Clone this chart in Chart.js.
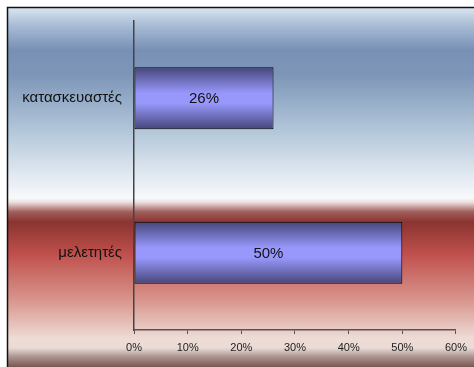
<!DOCTYPE html>
<html>
<head>
<meta charset="utf-8">
<script src="https://cdn.jsdelivr.net/npm/chart.js@4"></script>
<style>
  html, body { margin: 0; padding: 0; background: #fff; overflow: hidden; }
  #wrap { width: 474px; height: 367px; position: relative; }
</style>
</head>
<body>
<div id="wrap"><canvas id="chart" width="474" height="367"></canvas></div>
<script>
// data
const categories = ['κατασκευαστές', 'μελετητές'];
const shares = [26, 50];
const xTicks = [0, 10, 20, 30, 40, 50, 60];

// paints the banded background and the frame behind everything
const backdrop = {
  id: 'backdrop',
  beforeDraw(chart) {
    const c = chart.ctx;
    const h = chart.height;
    c.save();
    c.fillStyle = '#ffffff';
    c.fillRect(0, 0, chart.width, h);
    const g = c.createLinearGradient(0, 0, 0, h);
    const stops = [
      [7, '#dce6f1'], [25, '#a9bdd6'], [50, '#7890b5'], [75, '#7d96b8'],
      [130, '#b2c6d9'], [170, '#dce5ee'], [198, '#f8f9fb'], [202, '#eee2e2'],
      [212, '#a05e5b'], [222, '#8a3430'], [255, '#c0514d'], [300, '#d8958d'],
      [338, '#eedbd5'], [348, '#eadbd6'], [356, '#b09a96'], [367, '#7a5650']
    ];
    stops.forEach(([y, col]) => g.addColorStop(y / h, col));
    c.fillStyle = g;
    c.fillRect(7, 7, chart.width - 7, h - 7);
    c.strokeStyle = '#111';
    c.lineWidth = 1.5;
    c.beginPath();
    c.moveTo(7.5, h);
    c.lineTo(7.5, 7.5);
    c.lineTo(chart.width, 7.5);
    c.stroke();
    c.restore();
  }
};

// percentage written in the middle of each bar
const barLabels = {
  id: 'barLabels',
  afterDatasetsDraw(chart) {
    const c = chart.ctx;
    c.save();
    c.font = '15px "Liberation Sans", Arial, sans-serif';
    c.fillStyle = '#111';
    c.textAlign = 'center';
    c.textBaseline = 'middle';
    chart.getDatasetMeta(0).data.forEach((bar, i) => {
      const mid = (bar.x + bar.base) / 2;
      c.fillText(shares[i] + '%', mid, bar.y + 1);
    });
    c.restore();
  }
};

function barFill(ctx) {
  const chart = ctx.chart;
  const area = chart.chartArea;
  if (!area || !chart.scales.y) return '#9999ff';
  const yc = chart.scales.y.getPixelForValue(ctx.dataIndex);
  const half = (area.height / categories.length) * 0.4 / 2;
  const g = chart.ctx.createLinearGradient(0, yc - half, 0, yc + half);
  g.addColorStop(0, '#46467a');
  g.addColorStop(0.42, '#9898fc');
  g.addColorStop(0.58, '#9898fc');
  g.addColorStop(1, '#46467a');
  return g;
}

new Chart(document.getElementById('chart'), {
  type: 'bar',
  data: {
    labels: categories,
    datasets: [{
      data: shares,
      backgroundColor: barFill,
      borderColor: '#000',
      borderWidth: 1,
      borderSkipped: false,
      categoryPercentage: 0.8,
      barPercentage: 0.5
    }]
  },
  options: {
    indexAxis: 'y',
    responsive: false,
    animation: false,
    devicePixelRatio: 1,
    layout: { padding: { top: 17, right: 17, left: 0, bottom: 0 } },
    plugins: {
      legend: { display: false },
      tooltip: { enabled: false }
    },
    scales: {
      x: {
        min: 0,
        max: 60,
        afterBuildTicks: s => { s.ticks = xTicks.map(v => ({ value: v })); },
        afterFit: s => { s.height = 37; },
        grid: { display: true, drawOnChartArea: false, drawTicks: true, tickLength: 4, color: '#555' },
        border: { display: true, color: '#555', width: 1.5 },
        ticks: {
          color: '#222',
          padding: 7,
          maxRotation: 0,
          font: { family: '"Liberation Sans", Arial, sans-serif', size: 11 },
          callback: v => v + '%'
        }
      },
      y: {
        afterFit: s => { s.width = 134; },
        grid: { display: false, drawTicks: false },
        border: { display: true, color: '#444', width: 1.5 },
        ticks: {
          color: '#111',
          padding: 12,
          font: { family: '"Liberation Sans", Arial, sans-serif', size: 15 }
        }
      }
    }
  },
  plugins: [backdrop, barLabels]
});
</script>
</body>
</html>
